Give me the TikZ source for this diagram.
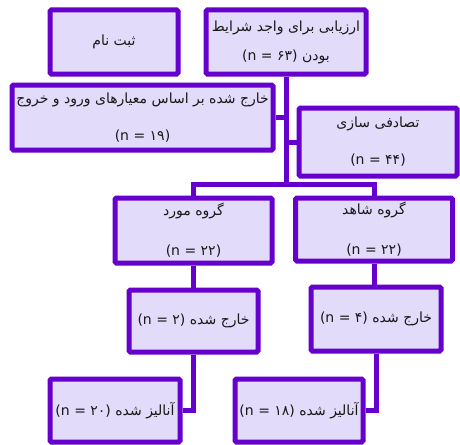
\documentclass[tikz,border=0pt]{standalone}
\usepackage{fontspec}
\setmainfont{DejaVu Sans}
\newfontfamily\arabicfont[Script=Arabic]{DejaVu Sans}
\TeXXeTstate=1
\definecolor{boxfill}{RGB}{226,220,250}
\definecolor{boxline}{RGB}{102,0,204}
\newcommand{\fa}[1]{{\arabicfont\beginR #1\endR}}
\begin{document}
\begin{tikzpicture}[x=1pt,y=-1pt,
  box/.style={draw=boxline, fill=boxfill, line width=5pt, rounded corners=1.5pt,
    inner sep=0pt, align=center, text=black!90, font=\fontsize{14}{17}\selectfont},
  tall/.style={font=\fontsize{14}{37}\selectfont},
  taller/.style={font=\fontsize{14}{40}\selectfont},
  mid/.style={font=\fontsize{14}{29}\selectfont},
  link/.style={draw=boxline, line width=5pt}]
\useasboundingbox (0,0) rectangle (460,444);
\node[box, minimum width=128pt, minimum height=64pt] (b1) at (114,42) {\fa{ثبت نام}};
\node[box, mid, minimum width=160pt, minimum height=64pt] (b2) at (286,42)
  {\fa{ارزیابی برای واجد شرایط}\\(n = ۶۳) \fa{بودن}};
\node[box, tall, minimum width=261pt, minimum height=65pt] (b3) at (142.5,117.5)
  {\fa{خارج شده بر اساس معیارهای ورود و خروج}\\(n = ۱۹)};
\node[box, tall, minimum width=158pt, minimum height=68pt] (b4) at (378,142)
  {\fa{تصادفی سازی}\\(n = ۴۴)};
\node[box, taller, minimum width=157pt, minimum height=65pt] (b5) at (193.5,230.5)
  {\fa{گروه مورد}\\(n = ۲۲)};
\node[box, taller, minimum width=157pt, minimum height=63pt] (b6) at (374,229.5)
  {\fa{گروه شاهد}\\(n = ۲۲)};
\node[box, minimum width=129pt, minimum height=62pt] (b7) at (193.5,321)
  {(n = ۲) \fa{خارج شده}};
\node[box, minimum width=130pt, minimum height=64pt] (b8) at (376,319)
  {(n = ۴) \fa{خارج شده}};
\node[box, minimum width=130pt, minimum height=63pt] (b9) at (115,410.5)
  {(n = ۲۰) \fa{آنالیز شده}};
\node[box, minimum width=128pt, minimum height=63pt] (b10) at (299,410.5)
  {(n = ۱۸) \fa{آنالیز شده}};
\coordinate (trunk) at (286,184);
\draw[link] (b2.south) -- (trunk);
\draw[link] (b5.north) |- (trunk) -| (b6.north);
\draw[link] (b3.east) -- (b3.east -| trunk);
\draw[link] (b4.west) -- (b4.west -| trunk);
\draw[link] (b5.south) -- (b5.south |- b7.north);
\draw[link] (b6.south) -- (b6.south |- b8.north);
\draw[link] (b7.south) |- (b9.east);
\draw[link] (b8.south) |- (b10.east);
\end{tikzpicture}
\end{document}
